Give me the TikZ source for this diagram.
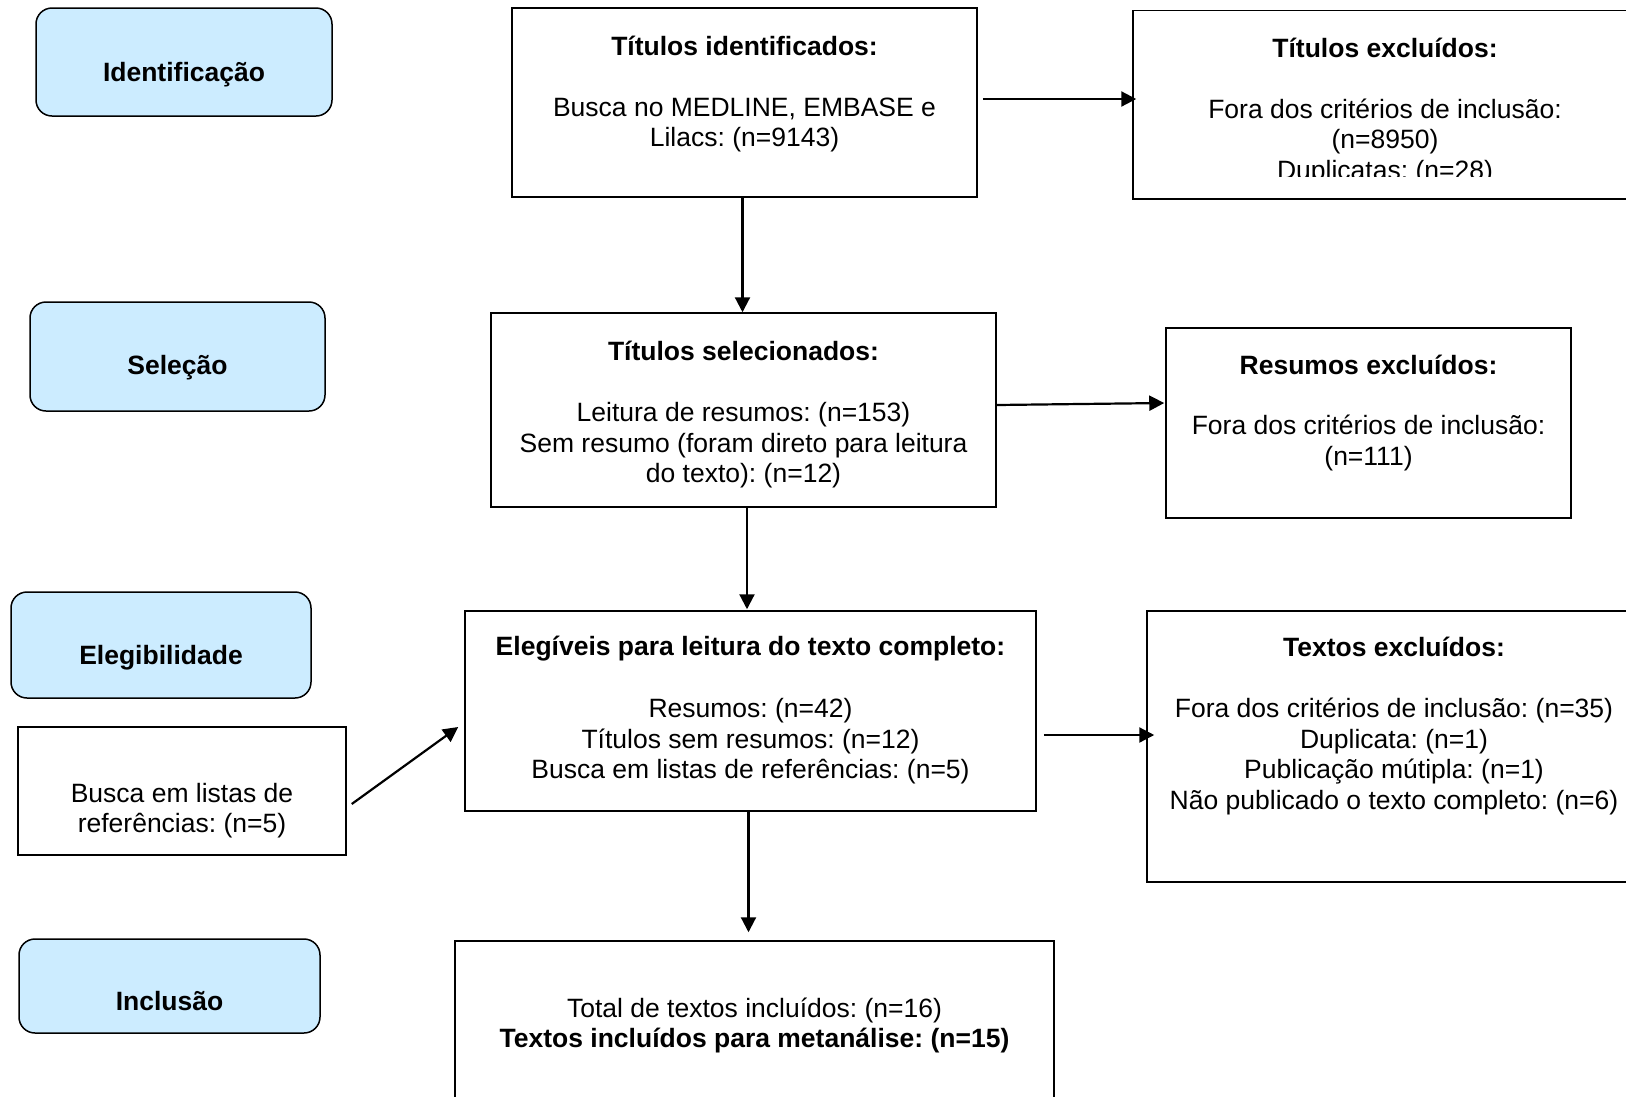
\documentclass[tikz,border=0pt]{standalone}
\usepackage{fontspec}
\setmainfont{Liberation Sans}
\usetikzlibrary{arrows.meta,calc}
\definecolor{phasefill}{RGB}{204,236,255}
\newcommand\topstr{\rule{0pt}{28pt}}
\frenchspacing
\tikzset{
  phase/.style={draw=black, line width=1.5pt, fill=phasefill, rounded corners=16pt, inner sep=0pt},
  stepbox/.style={draw=black, line width=1.5pt, fill=white, inner sep=0pt},
  ttl/.style={font=\fontsize{26.5}{30.5}\selectfont\bfseries\frenchspacing, inner sep=0pt, anchor=base, yshift=-1pt},
  body/.style={font=\fontsize{26.5}{30.5}\selectfont\frenchspacing, inner sep=0pt, anchor=north, align=center, yshift=-1pt},
  arr/.style={line width=2.2pt, -{Triangle[length=15pt,width=15pt]}},
}
\begin{document}
\begin{tikzpicture}[x=1pt,y=-1pt]
\clip (0,0) rectangle (1626,1096);
\fill[white] (0,0) rectangle (1626,1096);

% phase boxes
\node[phase, minimum width=296pt, minimum height=108pt] (pid) at (184,62) {};
\node[phase, minimum width=295pt, minimum height=109pt] (psel) at (177.5,356.5) {};
\node[phase, minimum width=300pt, minimum height=106pt] (pele) at (161,645) {};
\node[phase, minimum width=301pt, minimum height=94pt] (pinc) at (169.5,986) {};
\node[ttl] (tpid) at (184,80) {Identificação};
\node[ttl] (tpsel) at (177.5,373.5) {Seleção};
\node[ttl] (tpele) at (161,663.3) {Elegibilidade};
\node[ttl] (tpinc) at (169.5,1009) {Inclusão};

% step boxes
\node[stepbox, minimum width=465pt, minimum height=189pt] (bid) at (744.5,102.5) {};
\node[stepbox, minimum width=504pt, minimum height=188.5pt] (bexca) at (1385,104.75) {};
\node[stepbox, minimum width=505pt, minimum height=194pt] (bsel) at (743.5,410) {};
\node[stepbox, minimum width=405pt, minimum height=190pt] (bexcb) at (1368.5,423) {};
\node[stepbox, minimum width=571pt, minimum height=200pt] (bele) at (750.5,711) {};
\node[stepbox, minimum width=494pt, minimum height=271pt] (bexcc) at (1394,746.5) {};
\node[stepbox, minimum width=328pt, minimum height=128pt] (bref) at (182,791) {};
\node[stepbox, minimum width=599pt, minimum height=169pt] (btot) at (754.5,1025.5) {};

% texts
\node[ttl] (tbid) at (744.5,54) {Títulos identificados:};
\node[body] (xbid) at (744.5,87) {\topstr Busca no MEDLINE, EMBASE e\\Lilacs: (n=9143)};

\node[ttl] (tbexca) at (1385,56.5) {Títulos excluídos:};
\begin{scope}
  \clip (1134,12) rectangle (1640,176);
  \node[body] (xbexca) at (1385,89) {\topstr Fora dos critérios de inclusão:\\(n=8950)\\Duplicatas: (n=28)};
\end{scope}

\node[ttl] (tbsel) at (743.5,359) {Títulos selecionados:};
\node[body] (xbsel) at (743.5,392.5) {\topstr Leitura de resumos: (n=153)\\Sem resumo (foram direto para leitura\\do texto): (n=12)};

\node[ttl] (tbexcb) at (1368.5,373) {Resumos excluídos:};
\node[body] (xbexcb) at (1368.5,405.5) {\topstr Fora dos critérios de inclusão:\\(n=111)};

\node[ttl] (tbele) at (750.5,654) {Elegíveis para leitura do texto completo:};
\node[body] (xbele) at (750.5,688.5) {\topstr Resumos: (n=42)\\Títulos sem resumos: (n=12)\\Busca em listas de referências: (n=5)};

\node[ttl] (tbexcc) at (1394,655) {Textos excluídos:};
\node[body] (xbexcc) at (1394,688.7) {\topstr Fora dos critérios de inclusão: (n=35)\\Duplicata: (n=1)\\Publicação mútipla: (n=1)\\Não publicado o texto completo: (n=6)};

\node[body] (xbref) at (182,773) {\topstr Busca em listas de\\referências: (n=5)};

\node[body] (xbtot) at (754.5,988) {\topstr Total de textos incluídos: (n=16)\\\textbf{Textos incluídos para metanálise: (n=15)}};

% connectors
\draw[arr] ($(bid.east)+(5,-3.5)$) -- ($(bexca.west)+(4,-5.75)$);
\draw[arr] ($(bid.south)+(-2,0)$) -- ($(bsel.north)+(-1,0)$);
\draw[arr] ($(bsel.east)+(0,-5)$) -- ($(bexcb.west)+(-1,-20)$);
\draw[arr] ($(bsel.south)+(3.5,0)$) -- ($(bele.north)+(-3.5,-1)$);
\draw[arr] ($(bref.east)+(5,13)$) -- ($(bele.west)+(-6,16)$);
\draw[arr] ($(bele.east)+(7,24)$) -- ($(bexcc.west)+(8,-11.5)$);
\draw[arr] ($(bele.south)+(-2,0)$) -- ($(btot.north)+(-6,-8)$);
\end{tikzpicture}
\end{document}
